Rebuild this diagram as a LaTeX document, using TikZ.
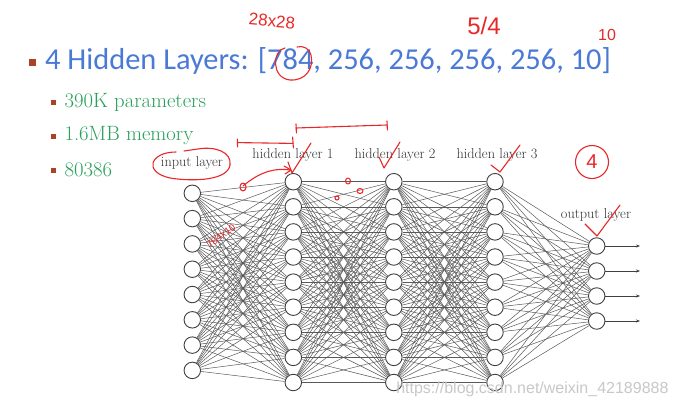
\documentclass[tikz,border=0pt]{standalone}
\usepackage{fontspec}
\setmainfont{Latin Modern Roman}
\newfontfamily\titlefont{Carlito}
\newfontfamily\wmfont{Liberation Sans}
\usetikzlibrary{arrows.meta}
\definecolor{titleblue}{RGB}{74,122,214}
\definecolor{bulletbrown}{RGB}{170,66,40}
\definecolor{txtgreen}{RGB}{40,160,90}
\definecolor{inkred}{RGB}{232,40,40}
\definecolor{wmgray}{RGB}{200,200,200}
\tikzset{
  neuron/.style={circle,draw=black!75,fill=white,line width=0.9pt,minimum size=16.5pt,inner sep=0pt},
  edge/.style={draw=black!65,line width=0.5pt},
  outarrow/.style={draw=black!75,line width=0.8pt,-{Stealth[length=4pt,width=3pt]}},
  layerlabel/.style={font=\fontsize{14.3}{15}\selectfont,text=black!80},
  bulletsq/.style={fill=bulletbrown,minimum size=5pt,inner sep=0pt},
  subtext/.style={font=\fontsize{20.7}{22}\selectfont,text=txtgreen,anchor=west},
  ink/.style={draw=inkred,line width=1.1pt,line cap=round,line join=round},
  inktext/.style={text=inkred,font=\wmfont\fontsize{16}{16}\selectfont}
}
\begin{document}
\begin{tikzpicture}[x=1pt,y=-1pt]
\useasboundingbox[fill=white] (0,0) rectangle (682,410);
% title
\node[bulletsq,minimum size=7pt] (b0) at (32,62) {};
\node[anchor=west,inner sep=0pt,text=titleblue,font=\titlefont\fontsize{30.4}{32}\selectfont] (title) at (45,61) {4 Hidden Layers: [784, 256, 256, 256, 256, 10]};
% sub bullets
\node[bulletsq] (b1) at (53,102) {};
\node[subtext] (t1) at (61,102) {390K parameters};
\node[bulletsq] (b2) at (53,136) {};
\node[subtext] (t2) at (61,136) {1.6MB memory};
\node[bulletsq] (b3) at (53,170) {};
\node[subtext] (t3) at (61,170) {80386};
% layers
\foreach \i in {1,...,8} \node[neuron] (I\i) at (192.3,{193.3+(\i-1)*25.3}) {};
\foreach \i in {1,...,9} {
  \node[neuron] (A\i) at (293.3,{181.7+(\i-1)*25.1}) {};
  \node[neuron] (B\i) at (393.8,{181.7+(\i-1)*25.1}) {};
  \node[neuron] (C\i) at (495,{181.7+(\i-1)*25.1}) {};
}
\foreach \i in {1,...,4} {
  \node[neuron] (O\i) at (596.7,{246+(\i-1)*25}) {};
  \coordinate (E\i) at (640,{246+(\i-1)*25});
  \draw[outarrow] (O\i) -- (E\i);
}
\foreach \i in {1,...,8} \foreach \j in {1,...,9} \draw[edge] (I\i) -- (A\j);
\foreach \i in {1,...,9} \foreach \j in {1,...,9} {
  \draw[edge] (A\i) -- (B\j);
  \draw[edge] (B\i) -- (C\j);
}
\foreach \i in {1,...,9} \foreach \j in {1,...,4} \draw[edge] (C\i) -- (O\j);
% labels
\node[layerlabel] (Li) at (192,163) {input layer};
\node[layerlabel] (La) at (293,155) {hidden layer 1};
\node[layerlabel] (Lb) at (395,155) {hidden layer 2};
\node[layerlabel] (Lc) at (497,155) {hidden layer 3};
\node[layerlabel] (Lo) at (596,215) {output layer};
% red ink annotations
\node[inktext,rotate=-5,font=\wmfont\fontsize{17}{17}\selectfont] (n28) at (272,21) {28x28};
\node[inktext,font=\wmfont\fontsize{24}{24}\selectfont] (n54) at (484,26) {5/4};
\node[inktext] (n10) at (607,35) {10};
\draw[ink] (285,48) .. controls (272,50) and (271,78) .. (290,80) .. controls (306,81) and (314,68) .. (311,55) .. controls (310,49) and (303,45) .. (297,47);
\draw[ink] (176,152) .. controls (150,152) and (143,172) .. (170,178) .. controls (195,182) and (228,180) .. (230,165) .. controls (232,152) and (215,146) .. (198,149) -- (184,151);
\draw[ink] (238,142.6) -- (293,143.4);
\draw[ink] (237.4,139) -- (237.6,147);
\draw[ink] (292.6,137) -- (293.4,148);
\draw[ink] (296,128) -- (387,125);
\draw[ink] (296,124) -- (296.4,133);
\draw[ink] (387,121) -- (387.4,130);
\draw[ink] (288,162) -- (292,173) -- (311,143);
\draw[ink] (243,186) .. controls (255,176) and (270,167) .. (290,170);
\draw[ink] (284,166) -- (291,170) -- (285,174);
\draw[ink] (243,187) ellipse (3pt and 4pt);
\draw[ink] (379,157) -- (384,168) -- (400,142);
\draw[ink] (348,181) ellipse (2.5pt and 3pt);
\draw[ink] (360,191) ellipse (3pt and 2.5pt);
\draw[ink] (337,198) ellipse (2pt and 2pt);
\draw[ink] (491,165) -- (500,172) -- (520,145);
\draw[ink] (592,162) circle (16.5pt);
\node[inktext,font=\wmfont\fontsize{20}{20}\selectfont] (n4) at (592,162) {4};
\draw[ink] (585,224) -- (597,236) -- (620,205);
\node[inktext,font=\wmfont\fontsize{10}{10}\selectfont,rotate=35] (n784) at (221,236) {784x10};
% watermark
\node[text=wmgray,font=\wmfont\fontsize{16}{16}\selectfont,anchor=east] (wm) at (672,389) {https://blog.csdn.net/weixin\_42189888};
\end{tikzpicture}
\end{document}
